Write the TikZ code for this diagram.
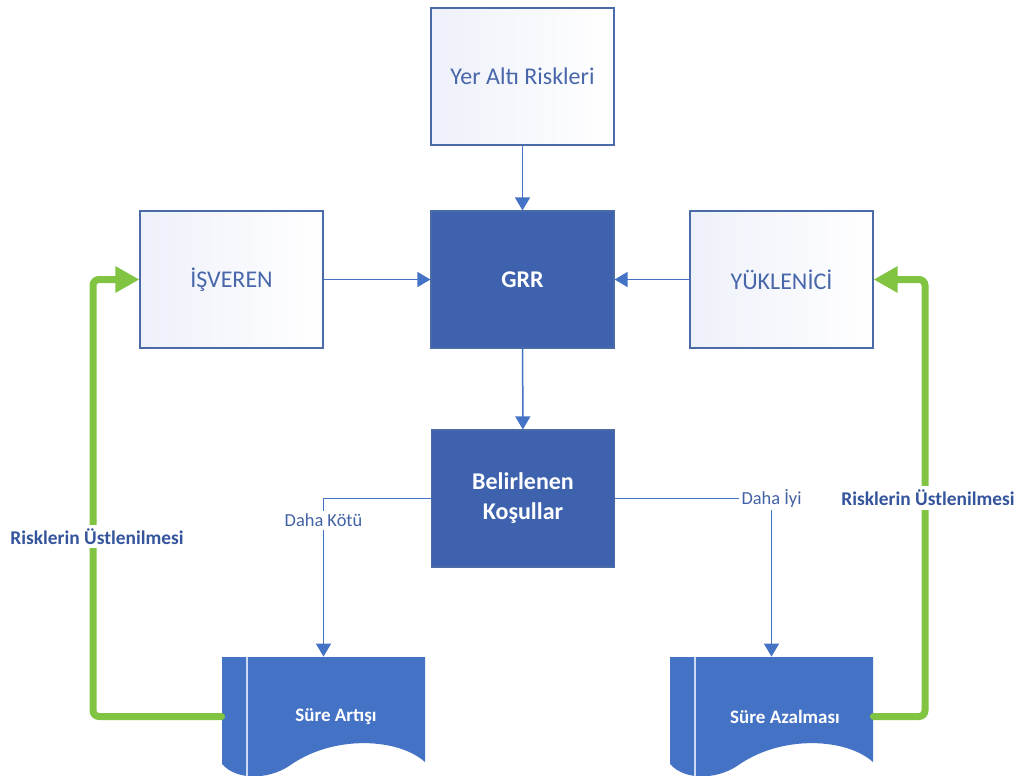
\documentclass[tikz,border=0pt]{standalone}
\usepackage{fontspec}
\setmainfont{Carlito}
\usetikzlibrary{arrows.meta,calc}
\definecolor{boxline}{RGB}{74,107,168}
\definecolor{boxtext}{RGB}{72,102,170}
\definecolor{boxshade}{RGB}{238,241,250}
\definecolor{darkfill}{RGB}{62,98,173}
\definecolor{docfill}{RGB}{68,114,196}
\definecolor{conn}{RGB}{68,114,196}
\definecolor{lbltext}{RGB}{66,98,166}
\definecolor{risktext}{RGB}{52,84,156}
\definecolor{grn}{RGB}{128,196,66}
\definecolor{strip}{RGB}{205,218,242}
\tikzset{
  lightbox/.style={draw=boxline, line width=0.6pt, left color=boxshade, right color=white,
    minimum width=91.5pt, minimum height=68.5pt, inner sep=0pt, text=boxtext,
    font=\fontsize{12}{14}\selectfont},
  darkbox/.style={draw=boxline, line width=0.6pt, fill=darkfill,
    minimum width=91.5pt, minimum height=68.5pt, inner sep=0pt, text=white, align=center,
    font=\bfseries\fontsize{12}{15}\selectfont},
  docarea/.style={minimum width=101.5pt, minimum height=59.5pt, inner sep=0pt},
  doclabel/.style={text=white, font=\bfseries\fontsize{9.5}{11}\selectfont},
  bluearrow/.style={draw=conn, line width=0.75pt, -{Triangle[length=6.5pt,width=7.5pt]}},
  greenarrow/.style={draw=grn, line width=3.5pt, rounded corners=3pt, line cap=round,
    -{Triangle[length=12pt,width=12.5pt]}},
  branchlbl/.style={fill=white, inner sep=1.5pt, text=lbltext, font=\fontsize{9.2}{11}\selectfont},
  risklbl/.style={fill=white, inner sep=2pt, text=risktext, font=\bfseries\fontsize{9.7}{11}\selectfont}
}
\newcommand{\docshapeat}[1]{%
  \begin{scope}[shift={(#1,0)}]
    \fill[docfill] (222,657) -- (425,657) -- (425,762)
      .. controls (398,738) and (335,735) .. (292,764)
      .. controls (272,779) and (238,782) .. (222,764) -- cycle;
    \draw[strip, line width=0.75pt] (247,657) -- (247,780);
  \end{scope}}
\begin{document}
\begin{tikzpicture}[x=0.5pt,y=-0.5pt]
\useasboundingbox (0,0) rectangle (1028,776);
\fill[white] (0,0) rectangle (1028,776);

% boxes
\node[lightbox] (yar) at (522.5,76.5) {Yer Altı Riskleri};
\node[lightbox] (isv) at (231.5,279.5) {İŞVEREN};
\node[darkbox]  (grr) at (522.5,279.5) {GRR};
\node[lightbox] (ykl) at (781.5,279.5) {YÜKLENİCİ};
\node[darkbox]  (bk)  at (523,498.5) {Belirlenen\\Koşullar};

% document shapes
\begin{scope}
\clip (0,0) rectangle (1028,776);
\docshapeat{0}
\docshapeat{448}
\end{scope}
\node[docarea, label={[doclabel, xshift=6.25pt]center:Süre Artışı}] (sa) at (323.5,716.5) {};
\node[docarea, label={[doclabel, xshift=6.75pt]center:Süre Azalması}] (saz) at (771.5,716.5) {};

% blue connectors
\draw[bluearrow] (yar) -- (grr);
\draw[bluearrow] (isv) -- (grr);
\draw[bluearrow] (ykl) -- (grr);
\draw[bluearrow] (grr) -- (bk);
\draw[bluearrow] (bk.west) -| node[branchlbl, pos=0.57] {Daha Kötü} (sa.north);
\draw[bluearrow] (bk.east) -| node[branchlbl, pos=0.5] {Daha İyi} (saz.north);

% green feedback
\coordinate (gl) at (93,279.5);
\coordinate (gr) at (925,279.5);
\draw[greenarrow] (sa.west) -| (gl) -- (isv.west);
\draw[greenarrow] (saz.east) -| (gr) -- (ykl.east);
\path (sa.west) -| node[risklbl, pos=0.706, xshift=2pt] {Risklerin Üstlenilmesi} (gl);
\path (saz.east) -| node[risklbl, pos=0.75, xshift=1.5pt] {Risklerin Üstlenilmesi} (gr);
\end{tikzpicture}
\end{document}
